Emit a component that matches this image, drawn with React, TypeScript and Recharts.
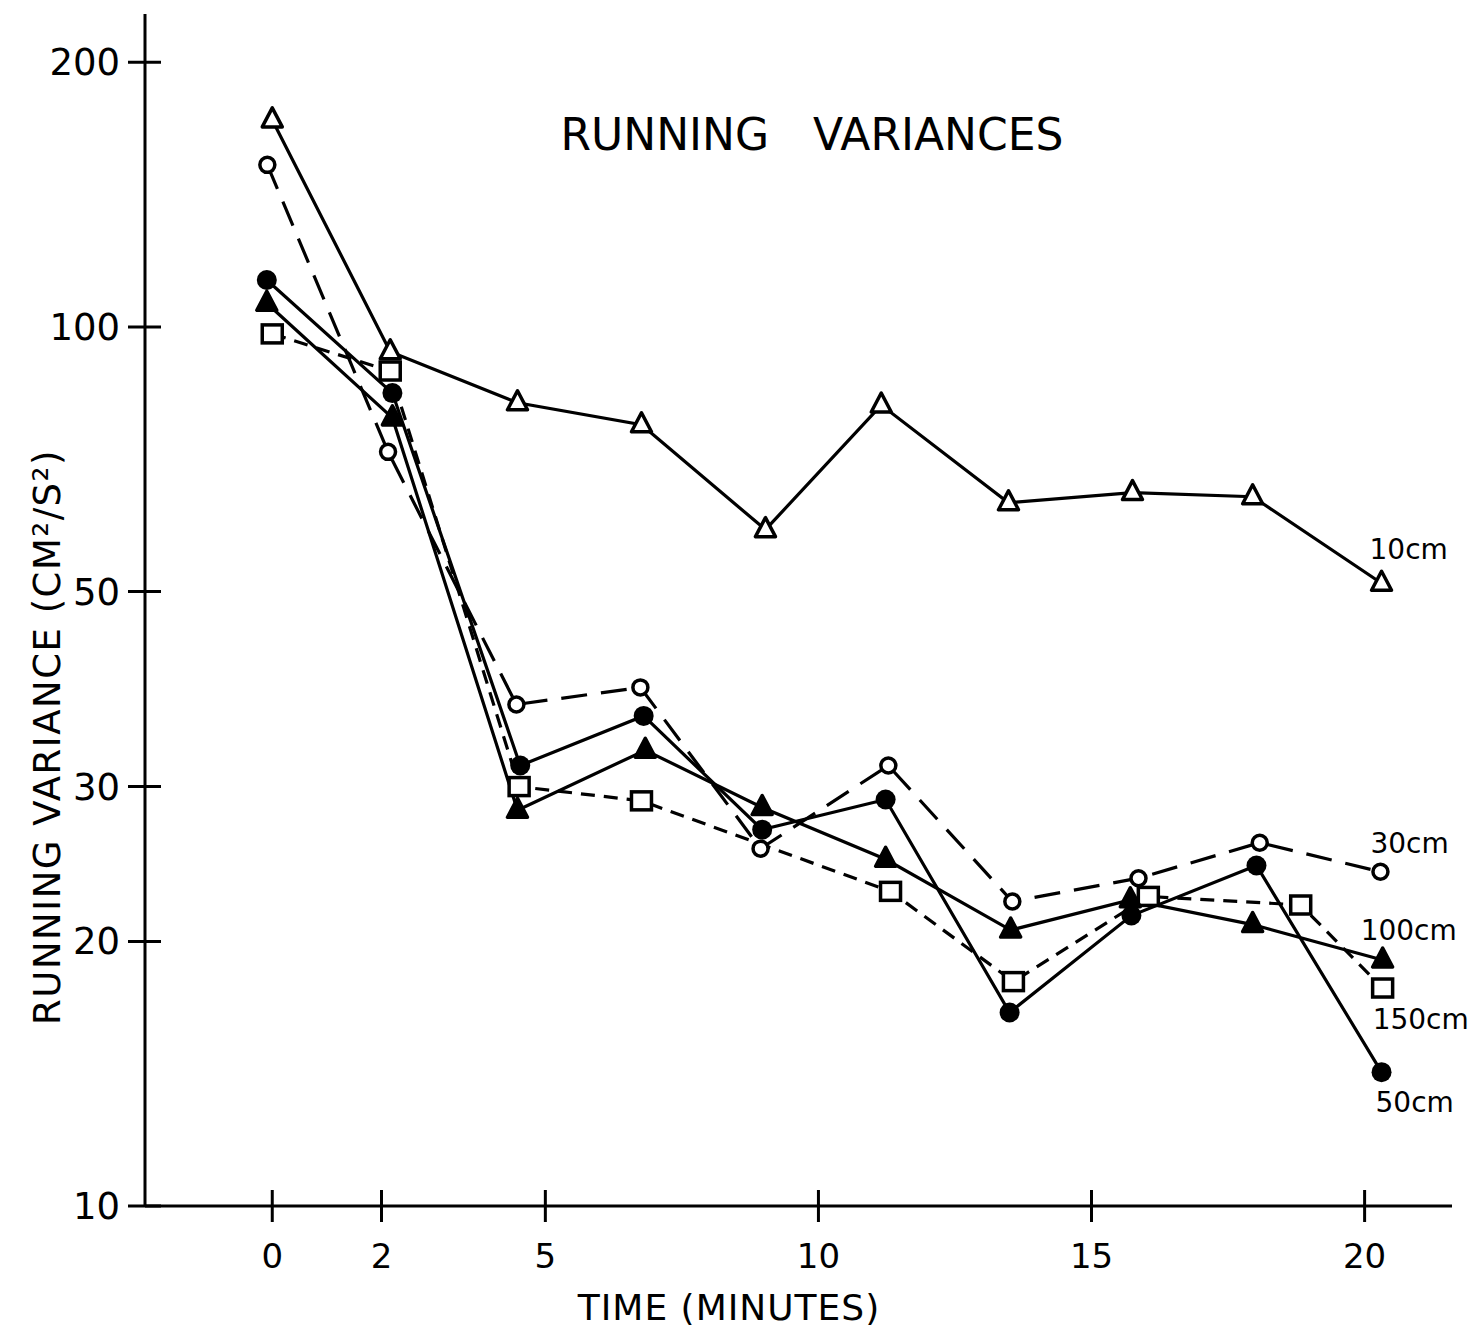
import React from "react";
import { LabelList, Line, LineChart, XAxis, YAxis } from "recharts";

const FONT = "'DejaVu Sans', sans-serif";
const INK = "#000";

const X_TICKS = [0, 2, 5, 10, 15, 20];
const Y_TICKS = [10, 20, 30, 50, 100, 200];

// 10 cm, open triangles
const T10 = [0, 2.16, 4.49, 6.76, 9.03, 11.15, 13.48, 15.75, 17.95, 20.31];
const V10 = [172, 93.7, 82, 77.4, 58.8, 81.5, 63.1, 64.8, 64.1, 51.1];

// 30 cm, open circles
const T30 = [-0.09, 2.12, 4.47, 6.74, 8.94, 11.28, 13.55, 15.86, 18.08, 20.29];
const V30 = [152.9, 72.1, 37.2, 38.9, 25.5, 31.7, 22.2, 23.6, 25.9, 24.0];

// 50 cm, filled circles
const T50 = [-0.1, 2.2, 4.54, 6.8, 8.97, 11.23, 13.5, 15.73, 18.02, 20.31];
const V50 = [113.1, 84.1, 31.7, 36.1, 26.8, 29.0, 16.6, 21.4, 24.4, 14.2];

// 100 cm, filled triangles
const T100 = [-0.1, 2.2, 4.49, 6.83, 8.97, 11.23, 13.52, 15.71, 17.95, 20.33];
const V100 = [106.4, 78.8, 28.2, 33.0, 28.4, 24.8, 20.6, 22.3, 20.9, 19.05];

// 150 cm, open squares
const T150 = [0, 2.16, 4.52, 6.76, 11.32, 13.57, 16.04, 18.83, 20.33];
const V150 = [98.2, 89.1, 30.0, 28.9, 22.8, 18.0, 22.5, 22.0, 17.7];

const zip = (t: number[], v: number[]) => t.map((x, i) => ({ t: x, v: v[i] }));

type Kind = "openTri" | "fillTri" | "openCirc" | "fillCirc" | "square";

function makeDot(kind: Kind, name: string) {
  return (p: any) => {
    const { cx, cy, index } = p;
    const key = `${name}-${index}`;
    if (cx == null || cy == null) return <g key={key} />;
    switch (kind) {
      case "openTri":
      case "fillTri":
        return (
          <polygon
            key={key}
            points={`${cx},${cy - 12} ${cx - 10},${cy + 7} ${cx + 10},${cy + 7}`}
            fill={kind === "fillTri" ? INK : "#fff"}
            stroke={INK}
            strokeWidth={3.5}
            strokeLinejoin="round"
          />
        );
      case "openCirc":
        return <circle key={key} cx={cx} cy={cy} r={7.5} fill="#fff" stroke={INK} strokeWidth={3.5} />;
      case "fillCirc":
        return <circle key={key} cx={cx} cy={cy} r={10} fill={INK} />;
      default:
        return (
          <rect key={key} x={cx - 10} y={cy - 9} width={20} height={18} fill="#fff" stroke={INK} strokeWidth={3.5} />
        );
    }
  };
}

function endLabel(text: string, last: number, dx: number, dy: number) {
  return (p: any) => {
    if (p.index !== last) return null;
    const x = p.x ?? p.viewBox?.x;
    const y = p.y ?? p.viewBox?.y;
    return (
      <text key={`lab-${text}`} x={x + dx} y={y + dy} fontFamily={FONT} fontSize={28} fill={INK} textAnchor="start">
        {text}
      </text>
    );
  };
}

function YTick(p: any) {
  const { x, y, payload } = p;
  return (
    <g>
      <line x1={x - 17} x2={x + 16} y1={y} y2={y} stroke={INK} strokeWidth={3} />
      <text x={x - 25} y={y} dy={13} textAnchor="end" fontFamily={FONT} fontSize={37} fill={INK}>
        {payload.value}
      </text>
    </g>
  );
}

function XTick(p: any) {
  const { x, y, payload } = p;
  return (
    <g>
      <line x1={x} x2={x} y1={y - 16} y2={y + 16} stroke={INK} strokeWidth={3} />
      <text x={x} y={y + 62} textAnchor="middle" fontFamily={FONT} fontSize={34} fill={INK}>
        {payload.value}
      </text>
    </g>
  );
}

export default function App() {
  const axisLine = { stroke: INK, strokeWidth: 3 };
  return (
    <div style={{ position: "absolute", left: 0, top: 0, background: "#fff" }}>
      <LineChart width={1474} height={1332} margin={{ top: 14, right: 22, bottom: 0, left: 0 }}>
        <XAxis
          type="number"
          dataKey="t"
          domain={[-2.33, 21.6]}
          ticks={X_TICKS}
          allowDataOverflow
          height={126}
          axisLine={axisLine}
          tickLine={false}
          tickSize={0}
          tickMargin={0}
          tick={<XTick />}
          interval={0}
        />
        <YAxis
          type="number"
          scale="log"
          domain={[10, 227]}
          ticks={Y_TICKS}
          allowDataOverflow
          width={145}
          axisLine={axisLine}
          tickLine={false}
          tickSize={0}
          tickMargin={0}
          tick={<YTick />}
          interval={0}
        />
        <Line data={zip(T10, V10)} dataKey="v" type="linear" stroke={INK} strokeWidth={3.2}
          dot={makeDot("openTri", "s10")} isAnimationActive={false}>
          <LabelList dataKey="v" content={endLabel("10cm", T10.length - 1, -12, -24)} />
        </Line>
        <Line data={zip(T150, V150)} dataKey="v" type="linear" stroke={INK} strokeWidth={3.2} strokeDasharray="14 9"
          dot={makeDot("square", "s150")} isAnimationActive={false}>
          <LabelList dataKey="v" content={endLabel("150cm", T150.length - 1, -10, 41)} />
        </Line>
        <Line data={zip(T30, V30)} dataKey="v" type="linear" stroke={INK} strokeWidth={3.2} strokeDasharray="26 14"
          dot={makeDot("openCirc", "s30")} isAnimationActive={false}>
          <LabelList dataKey="v" content={endLabel("30cm", T30.length - 1, -10, -19)} />
        </Line>
        <Line data={zip(T100, V100)} dataKey="v" type="linear" stroke={INK} strokeWidth={3.2}
          dot={makeDot("fillTri", "s100")} isAnimationActive={false}>
          <LabelList dataKey="v" content={endLabel("100cm", T100.length - 1, -22, -20)} />
        </Line>
        <Line data={zip(T50, V50)} dataKey="v" type="linear" stroke={INK} strokeWidth={3.2}
          dot={makeDot("fillCirc", "s50")} isAnimationActive={false}>
          <LabelList dataKey="v" content={endLabel("50cm", T50.length - 1, -6, 40)} />
        </Line>
        <text x={812} y={150} textAnchor="middle" fontFamily={FONT} fontSize={44} fill={INK} wordSpacing={30}>
          RUNNING VARIANCES
        </text>
        <text x={60} y={737} textAnchor="middle" fontFamily={FONT} fontSize={37} fill={INK}
          letterSpacing={1.5} transform="rotate(-90 60 737)">
          RUNNING VARIANCE (CM²/S²)
        </text>
        <text x={729} y={1320} textAnchor="middle" fontFamily={FONT} fontSize={36} fill={INK} letterSpacing={1}>
          TIME (MINUTES)
        </text>
      </LineChart>
    </div>
  );
}
